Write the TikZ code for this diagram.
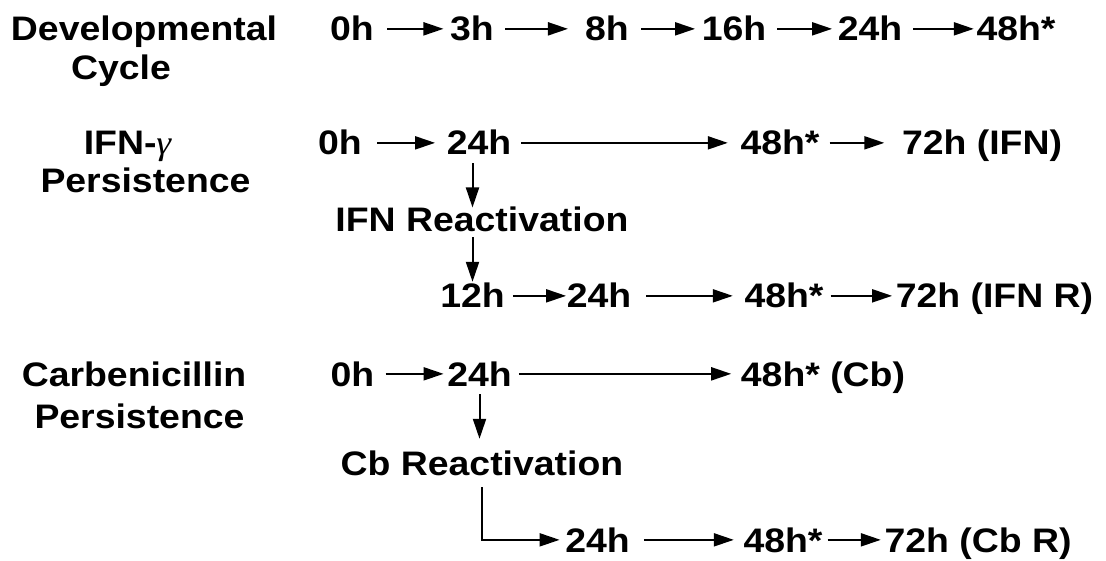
\documentclass[tikz,border=0pt]{standalone}
\usepackage{fontspec}
\newfontfamily\labfont{Liberation Sans Bold}[FakeStretch=1.1]
\newfontfamily\gfont{Liberation Serif Italic}[FakeStretch=1.1]
\usetikzlibrary{arrows.meta}
\begin{document}
\begin{tikzpicture}[x=1pt,y=-1pt,
  lab/.style={font=\labfont\fontsize{34}{40}\selectfont, inner sep=0pt,
              text height=24.3pt, text depth=0pt, anchor=base},
  arr/.style={line width=2pt, -{Triangle[length=20pt,width=13pt]}}]
\useasboundingbox[fill=white] (0,0) rectangle (1106,561);
% row 1
\node[lab] (dev) at (144,41) {Developmental};
\node[lab] (cyc) at (121,80) {Cycle};
\node[lab] (t0)  at (352,41) {0h};
\node[lab] (t3)  at (472,41) {3h};
\node[lab] (t8)  at (607,41) {8h};
\node[lab] (t16) at (734,41) {16h};
\node[lab] (t24) at (870,41) {24h};
\node[lab] (t48) at (1016,41) {48h*};
% row 2
\node[lab] (ifn)   at (127.5,155) {IFN-{\gfont γ}};
\node[lab] (pers1) at (145.5,193) {Persistence};
\node[lab] (a0)  at (340,155) {0h};
\node[lab] (a24) at (479,155) {24h};
\node[lab] (a48) at (780,155) {48h*};
\node[lab] (a72) at (982,155) {72h (IFN)};
\node[lab] (reac1) at (482,232) {IFN Reactivation};
% row 3
\node[lab] (b12) at (472.5,308) {12h};
\node[lab] (b24) at (599,308) {24h};
\node[lab] (b48) at (784,308) {48h*};
\node[lab] (b72) at (994.5,308) {72h (IFN R)};
% row 4
\node[lab] (carb)  at (134,386) {Carbenicillin};
\node[lab] (pers2) at (139.5,428) {Persistence};
\node[lab] (c0)  at (352.5,386) {0h};
\node[lab] (c24) at (479.5,386) {24h};
\node[lab] (c48) at (823,386) {48h* (Cb)};
\node[lab] (reac2) at (482,475) {Cb Reactivation};
% row 5
\node[lab] (d24) at (597.5,552) {24h};
\node[lab] (d48) at (783,552) {48h*};
\node[lab] (d72) at (978,552) {72h (Cb R)};
% arrows row 1
\draw[arr, shorten <=13pt, shorten >=6.5pt] (t0.east) -- (t3.west);
\draw[arr, shorten <=11pt, shorten >=17pt] (t3.east) -- (t8.west);
\draw[arr, shorten <=12pt, shorten >=6.5pt] (t8.east) -- (t16.west);
\draw[arr, shorten <=11pt, shorten >=5.5pt] (t16.east) -- (t24.west);
\draw[arr, shorten <=11pt, shorten >=2.5pt] (t24.east) -- (t48.west);
% row 2
\draw[arr, shorten <=15pt, shorten >=11.5pt] (a0.east) -- (a24.west);
\draw[arr, shorten <=10pt, shorten >=12.5pt] (a24.east) -- (a48.west);
\draw[arr, shorten <=10pt, shorten >=17.5pt] (a48.east) -- (a72.west);
\draw[arr, shorten <=8pt, shorten >=0pt] (a24.south -| b12.center) -- (reac1.north -| b12.center);
\draw[arr, shorten <=5pt, shorten >=1.7pt] (reac1.south -| b12.center) -- (b12.north);
% row 3
\draw[arr, shorten <=8pt, shorten >=0.5pt] (b12.east) -- (b24.west);
\draw[arr, shorten <=15pt, shorten >=11.5pt] (b24.east) -- (b48.west);
\draw[arr, shorten <=7pt, shorten >=3.5pt] (b48.east) -- (b72.west);
% row 4
\draw[arr, shorten <=11pt, shorten >=3.5pt] (c0.east) -- (c24.west);
\draw[arr, shorten <=7pt, shorten >=9.5pt] (c24.east) -- (c48.west);
\draw[arr, shorten <=8pt, shorten >=11.7pt] (c24.south) -- (reac2.north -| c24.south);
\draw[arr, shorten <=12pt, shorten >=5.5pt] (reac2.south) |- (d24.west);
% row 5
\draw[arr, shorten <=14pt, shorten >=9.5pt] (d24.east) -- (d48.west);
\draw[arr, shorten <=5pt, shorten >=3.5pt] (d48.east) -- (d72.west);
\end{tikzpicture}
\end{document}
